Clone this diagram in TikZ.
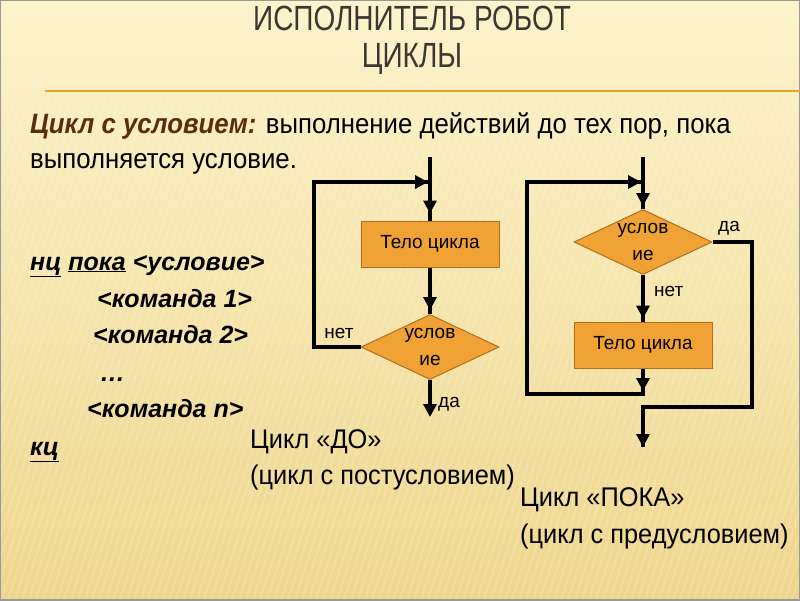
\documentclass[tikz,border=0pt]{standalone}
\usepackage{fontspec}
\setmainfont{Liberation Sans}
\newfontfamily\narrowf[FakeStretch=0.8]{Liberation Sans}
\newfontfamily\introf[FakeStretch=0.92]{Liberation Sans}
\newfontfamily\captf[FakeStretch=0.94]{Liberation Sans}
\usetikzlibrary{shapes.geometric,arrows.meta}
\definecolor{bgtop}{RGB}{253,243,204}
\definecolor{bgbot}{RGB}{238,214,140}
\definecolor{boxor}{RGB}{240,162,52}
\definecolor{boxbd}{RGB}{180,110,30}
\definecolor{titlec}{RGB}{60,55,50}
\definecolor{brownc}{RGB}{90,45,15}
\definecolor{rulec}{RGB}{232,160,50}
\tikzset{
  flowbox/.style={rectangle,draw=boxbd,fill=boxor,line width=1pt,minimum width=138pt,minimum height=46pt,inner sep=0pt,font=\fontsize{19}{22}\selectfont},
  flowdia/.style={diamond,draw=boxbd,fill=boxor,line width=1pt,minimum width=138pt,minimum height=65pt,inner sep=0pt,aspect=2.1,align=center,font=\fontsize{19}{27}\selectfont},
  conn/.style={line width=3.4pt,black},
  arr/.style={line width=3.4pt,black,-{Triangle[width=13pt,length=13pt]}},
  lbl/.style={font=\fontsize{19}{21}\selectfont,inner sep=0pt},
  capt/.style={font=\captf\fontsize{27}{34}\selectfont,anchor=base west,inner sep=0pt,align=left},
  prog/.style={font=\fontsize{25}{27}\selectfont\bfseries\itshape,anchor=base west,inner sep=0pt}
}
\begin{document}
\begin{tikzpicture}[x=1pt,y=-1pt]
\useasboundingbox (0,0) rectangle (800,600);
\shade[top color=bgtop,bottom color=bgbot] (0,0) rectangle (800,600);
\foreach \i in {-300,-293,...,800} {
  \draw[white,opacity=0.14,line width=2pt] (\i,600) -- (\i+160,100);
}
\draw[gray!80,line width=2pt] (0,0) rectangle (800,600);
\draw[rulec,line width=1.5pt] (45,91) -- (800,91);
% title
\node[font=\narrowf\fontsize{35}{40}\selectfont,text=titlec,inner sep=0pt] (t1) at (412,18) {ИСПОЛНИТЕЛЬ РОБОТ};
\node[font=\narrowf\fontsize{35}{40}\selectfont,text=titlec,inner sep=0pt] (t2) at (412,59) {ЦИКЛЫ};
% intro
\node[font=\introf\fontsize{28}{34}\selectfont,anchor=base west,inner sep=0pt] (intro1) at (30,133)
  {{\color{brownc}\bfseries\itshape Цикл с условием:} выполнение действий до тех пор, пока};
\node[font=\introf\fontsize{28}{34}\selectfont,anchor=base west,inner sep=0pt] (intro2) at (30,168) {выполняется условие.};
% program
\node[prog] (p1) at (30,270) {\underline{нц} \underline{пока} <условие>};
\node[prog] (p2) at (97,307) {<команда 1>};
\node[prog] (p3) at (93,343) {<команда 2>};
\node[prog] (p4) at (100,381) {…};
\node[prog] (p5) at (87,417) {<команда n>};
\node[prog] (p6) at (30,455) {\underline{кц}};
% captions
\node[capt] (c1) at (250,448) {Цикл «ДО»};
\node[capt] (c2) at (250,484) {(цикл с постусловием)};
\node[capt] (c3) at (520,506) {Цикл «ПОКА»};
\node[capt] (c4) at (520,543) {(цикл с предусловием)};
% left flowchart (DO)
\node[flowbox] (b1) at (430,244) {Тело цикла};
\node[flowdia] (d1) at (430,347) {услов\\ие};
\coordinate (s1) at (430,157);
\coordinate (j1) at (430,182);
\coordinate (l1) at (314,347);
\coordinate (l2) at (314,182);
\coordinate (e1) at (430,417);
\draw[conn] (s1) -- (b1.north);
\draw[arr] (s1) -- ([yshift=7pt]b1.north);
\draw[conn] (b1.south) -- (d1.north);
\draw[arr] (b1.south) -- ([yshift=4pt]d1.north);
\draw[conn] (d1.west) -- (l1) -- (l2) -- (j1);
\draw[arr] (l2) -- ([xshift=-2pt]j1);
\draw[arr] (d1.south) -- (e1);
\node[lbl,anchor=south] (n1) at (339,339) {нет};
\node[lbl,anchor=west] (y1) at (438,404) {да};
% right flowchart (POKA)
\node[flowdia] (d2) at (643,242) {услов\\ие};
\node[flowbox] (b2) at (643,345) {Тело цикла};
\coordinate (s2) at (643,157);
\coordinate (j2) at (643,182);
\coordinate (r1) at (527,394);
\coordinate (r2) at (527,182);
\coordinate (k1) at (643,394);
\coordinate (m1) at (752,242);
\coordinate (m2) at (752,407);
\coordinate (m3) at (643,407);
\coordinate (e2) at (643,447);
\draw[conn] (s2) -- (d2.north);
\draw[arr] (s2) -- ([yshift=3pt]d2.north);
\draw[conn] (d2.south) -- (b2.north);
\draw[arr] (d2.south) -- ([yshift=3pt]b2.north);
\draw[conn] (b2.south) -- (k1) -- (r1) -- (r2) -- (j2);
\draw[arr] (b2.south) -- ([yshift=3pt]k1);
\draw[arr] (r2) -- ([xshift=-2pt]j2);
\draw[conn] (d2.east) -- (m1) -- (m2) -- (m3) -- (e2);
\draw[arr] (m3) -- (e2);
\node[lbl,anchor=south west] (y2) at (718,235) {да};
\node[lbl,anchor=west] (n2) at (654,291) {нет};
\end{tikzpicture}
\end{document}
